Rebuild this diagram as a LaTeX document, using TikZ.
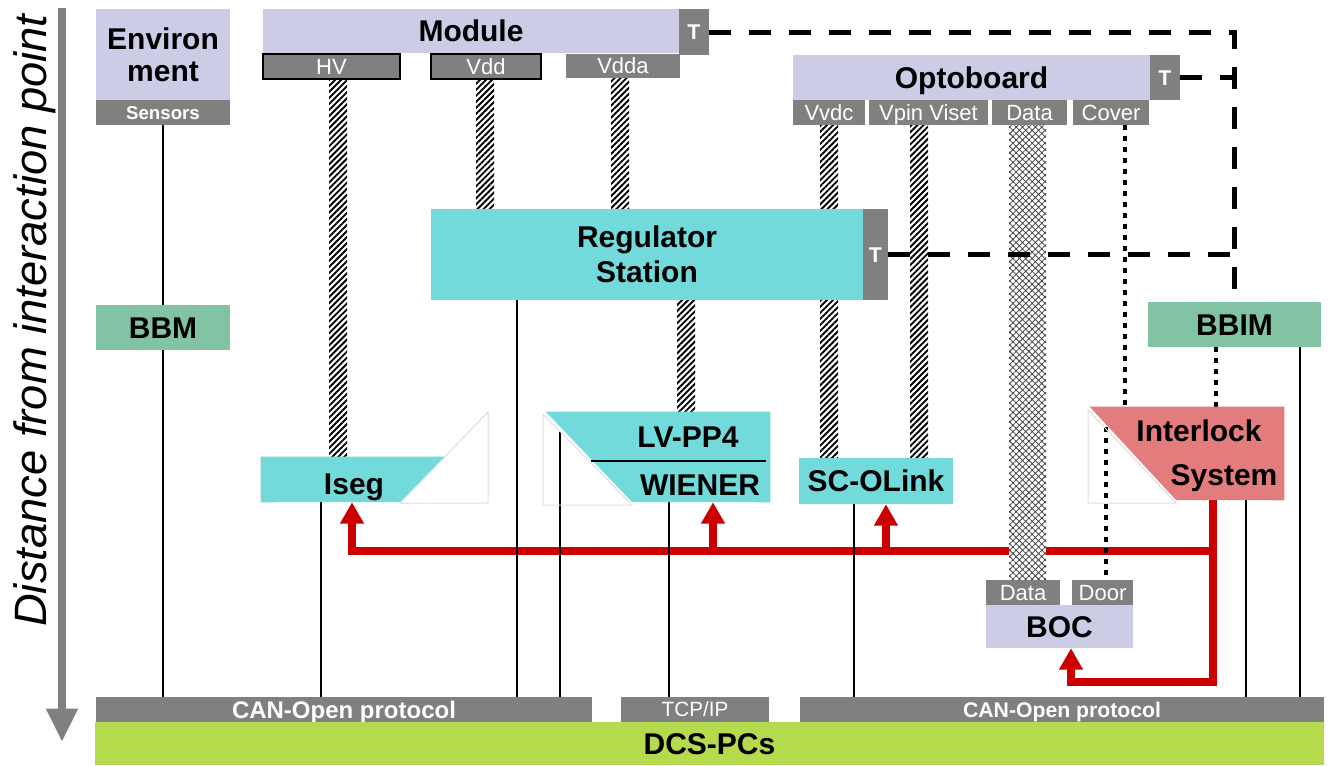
\documentclass[tikz,border=0pt]{standalone}
\usepackage{fontspec}
\setmainfont{Liberation Sans}
\usetikzlibrary{arrows.meta,patterns.meta}
\definecolor{lav}{RGB}{204,204,230}
\definecolor{barg}{RGB}{128,128,128}
\definecolor{cyanc}{RGB}{114,218,219}
\definecolor{bbmg}{RGB}{130,195,164}
\definecolor{salmon}{RGB}{227,125,125}
\definecolor{redc}{RGB}{204,0,0}
\definecolor{lime}{RGB}{181,218,77}
\definecolor{faint}{RGB}{222,222,222}
\definecolor{xhatch}{RGB}{60,60,60}
\pgfdeclarelayer{back}
\pgfdeclarelayer{wires}
\pgfsetlayers{back,wires,main}
\begin{document}
\begin{tikzpicture}[x=0.75pt,y=-0.75pt,
  rect/.style n args={4}{minimum width={(#3-#1)*0.75pt}, minimum height={(#4-#2)*0.75pt}, at={({(#1+#3)/2},{(#2+#4)/2})}},
  box/.style={inner sep=0pt, draw=none, align=center, font=\bfseries\fontsize{22.5}{24}\selectfont},
  lavbox/.style={box, fill=lav},
  cyanbox/.style={box, fill=cyanc},
  greenbox/.style={box, fill=bbmg},
  frame/.style={inner sep=0pt, draw=none},
  one/.style={text height=16pt, text depth=0pt},
  bar/.style={inner sep=0pt, fill=barg, text=white, font=\fontsize{16.5}{18}\selectfont, text height=11.8pt, text depth=0pt},
  tbox/.style={bar, font=\bfseries\fontsize{16}{18}\selectfont, text height=11.5pt},
  big/.style={font=\bfseries\fontsize{22.5}{24}\selectfont, inner sep=0pt, anchor=base},
  wire/.style={line width=1.6pt, black},
  hatchcol/.style={pattern={Lines[angle=45,distance=3.2pt,line width=1.4pt]}},
  crosscol/.style={fill=white, postaction={pattern={Hatch[angle=45,distance=3.4pt,line width=0.55pt]}, pattern color=xhatch}},
  dotl/.style={line width=3.4pt, dash pattern=on 3.4pt off 4.85pt},
  dashl/.style={line width=3.75pt, dash pattern=on 16.5pt off 13.5pt},
  redl/.style={line width=5.6pt, draw=redc},
  redtip/.style={-{Triangle[width=17pt,length=16pt]}},
  faintl/.style={draw=faint, line width=0.75pt},
]
\begin{pgfonlayer}{back}
\useasboundingbox[fill=white] (0,0) rectangle (1332,765);
\end{pgfonlayer}

% ---------- boxes ----------
\node[lavbox, rect={96}{9}{230}{100}, font=\bfseries\fontsize{22.5}{24}\selectfont] (env) {Environ\\ment};
\node[bar, rect={96}{100}{230}{125}, font=\bfseries\fontsize{14}{16}\selectfont, text height=10pt] (sens) {Sensors};
\node[greenbox, one, rect={96}{305}{230}{350}] (bbm) {BBM};

\node[lavbox, one, rect={263}{9}{679}{53}] (mod) {Module};
\node[tbox, rect={679}{9}{709}{55}] (modT) {T};
\node[bar, draw=black, line width=0.9pt, rect={263}{54}{400}{79}] (hv) {HV};
\node[bar, draw=black, line width=0.9pt, rect={431}{54}{541}{79}] (vdd) {Vdd};
\node[bar, rect={566}{54}{680}{78}] (vdda) {Vdda};

\node[lavbox, one, rect={793}{55}{1150}{100}] (opto) {Optoboard};
\node[tbox, rect={1150}{55}{1180}{100}] (optoT) {T};
\node[bar, rect={793}{100}{865}{125}] (vvdc) {Vvdc};
\node[bar, rect={869}{100}{988}{125}] (vpin) {Vpin Viset};
\node[bar, rect={992}{100}{1067}{125}] (odata) {Data};
\node[bar, rect={1073}{100}{1149}{125}] (cover) {Cover};

\node[cyanbox, rect={431}{209}{863}{300}, font=\bfseries\fontsize{22.5}{26.25}\selectfont] (reg) {Regulator\\Station};
\node[tbox, rect={863}{209}{888}{300}] (regT) {T};

% Iseg
\node[frame, rect={261}{457}{444}{502}] (iseg) {};
\draw[faintl] (400,503) -- (488,503) -- (488,412) -- cycle;
\fill[cyanc] (iseg.north west) -- (iseg.north east) -- (400,502) -- (iseg.south west) -- cycle;
\node[big] (isegtx) at (354,494) {Iseg};

% LV-PP4 / WIENER
\node[frame, rect={546}{412}{770}{502}] (lv) {};
\draw[faintl] (543,414) -- (543,505) -- (632,505) -- cycle;
\fill[cyanc] (lv.north west) -- (lv.north east) -- (lv.south east) -- (632,502) -- cycle;
\node[big] (lvtx) at (688,447) {LV-PP4};
\node[big] (wientx) at (700,495) {WIENER};
\draw[line width=1pt] (591,461) coordinate (sepa) -- (766,461) coordinate (sepb);

\node[cyanbox, one, rect={799}{458}{953}{504}] (sco) {SC-OLink};

% Interlock
\node[frame, rect={1090}{407}{1284}{500}] (il) {};
\draw[faintl] (1088,410) -- (1088,503) -- (1176,503) -- cycle;
\fill[salmon] (il.north west) -- (il.north east) -- (il.south east) -- (1176,500) -- cycle;
\node[big] (iltx1) at (1199,441) {Interlock};
\node[big] (iltx2) at (1224,485) {System};

\node[greenbox, one, rect={1148}{302}{1321}{347}] (bbim) {BBIM};

\node[bar, rect={986}{580}{1060}{605}] (bdata) {Data};
\node[bar, rect={1072}{580}{1133}{605}] (door) {Door};
\node[lavbox, one, rect={986}{605}{1133}{648}] (boc) {BOC};

\node[bar, rect={96}{697}{592}{722}, font=\bfseries\fontsize{18}{20}\selectfont, text height=13pt] (can1) {CAN-Open protocol};
\node[bar, rect={621}{697}{769}{722}, font=\fontsize{15.5}{18}\selectfont, text height=11pt] (tcp) {TCP/IP};
\node[bar, rect={800}{697}{1324}{722}, font=\bfseries\fontsize{15.9}{18}\selectfont, text height=11.4pt] (can2) {CAN-Open protocol};
\node[box, one, fill=lime, rect={95}{722}{1324}{765}] (dcs) {DCS-PCs};

% helper positions
\path (329,0) coordinate (h1l) (347,0) coordinate (h1r)
      (476,0) coordinate (h2l) (494,0) coordinate (h2r)
      (611,0) coordinate (h3l) (629,0) coordinate (h3r)
      (677,0) coordinate (h4l) (695,0) coordinate (h4r)
      (820,0) coordinate (h5l) (838,0) coordinate (h5r)
      (910,0) coordinate (h6l) (928,0) coordinate (h6r)
      (1009,0) coordinate (h7l) (1046,0) coordinate (h7r)
      (321,0) coordinate (x321) (517,0) coordinate (x517)
      (669,0) coordinate (x669) (854,0) coordinate (x854)
      (1246,0) coordinate (x1246) (1300,0) coordinate (x1300)
      (1125,0) coordinate (x1125) (1216,0) coordinate (x1216)
      (560,432) coordinate (lvin) (1106,427) coordinate (dstart)
      (1213,551) coordinate (rj) (352,551) coordinate (ra)
      (713,551) coordinate (rb) (886,551) coordinate (rc)
      (1213,682) coordinate (rd) (1071,682) coordinate (re)
      (62,8) coordinate (ga) (62,742) coordinate (gb);

\begin{pgfonlayer}{wires}
% ---------- red interlock signals ----------
\draw[redl, redtip] (il.south -| rj) -- (rj) -- (ra) -- (ra |- iseg.south);
\draw[redl, redtip] (rb) -- (rb |- lv.south);
\draw[redl, redtip] (rc) -- (rc |- sco.south);
\draw[redl, redtip] (rj) -- (rd) -- (re) -- (re |- boc.south);

% ---------- power (hatched) and data (crosshatched) lines ----------
\fill[hatchcol] (h1l |- hv.south) rectangle (h1r |- iseg.north);
\fill[hatchcol] (h2l |- vdd.south) rectangle (h2r |- reg.north);
\fill[hatchcol] (h3l |- vdda.south) rectangle (h3r |- reg.north);
\fill[hatchcol] (h4l |- reg.south) rectangle (h4r |- lv.north);
\fill[hatchcol] (h5l |- vvdc.south) rectangle (h5r |- sco.north);
\fill[hatchcol] (h6l |- vpin.south) rectangle (h6r |- sco.north);
\path[crosscol] (h7l |- odata.south) rectangle (h7r |- bdata.north);

% ---------- black bus lines ----------
\draw[wire] (sens.south) -- (sens.south |- can1.north);
\draw[wire] (x321 |- iseg.south) -- (x321 |- can1.north);
\draw[wire] (x517 |- reg.south) -- (x517 |- can1.north);
\draw[wire] (lvin) -- (lvin |- can1.north);
\draw[wire] (x669 |- lv.south) -- (x669 |- tcp.north);
\draw[wire] (x854 |- sco.south) -- (x854 |- can2.north);
\draw[wire] (x1246 |- il.south) -- (x1246 |- can2.north);
\draw[wire] (x1300 |- bbim.south) -- (x1300 |- can2.north);

% ---------- dotted interlock lines ----------
\draw[dotl] (x1125 |- cover.south) -- (x1125 |- il.north);
\draw[dotl] (dstart) -- (dstart |- door.north);
\draw[dotl] (x1216 |- bbim.south) -- (x1216 |- il.north);

% ---------- dashed temperature lines ----------
\draw[dashl] (modT.east) -- (modT.east -| bbim.north) -- (bbim.north);
\draw[dashl] (optoT.east) -- (optoT.east -| bbim.north);
\draw[dashl] (regT.east) -- (regT.east -| bbim.north);
\end{pgfonlayer}

% ---------- axis ----------
\draw[barg, line width=6pt, -{Triangle[width=22.5pt,length=25pt]}] (ga) -- (gb);
\node[rotate=90, anchor=base west, inner sep=0pt, font=\itshape\fontsize{34}{40}\selectfont] (axis) at (46,627) {Distance from interaction point};
\end{tikzpicture}
\end{document}
